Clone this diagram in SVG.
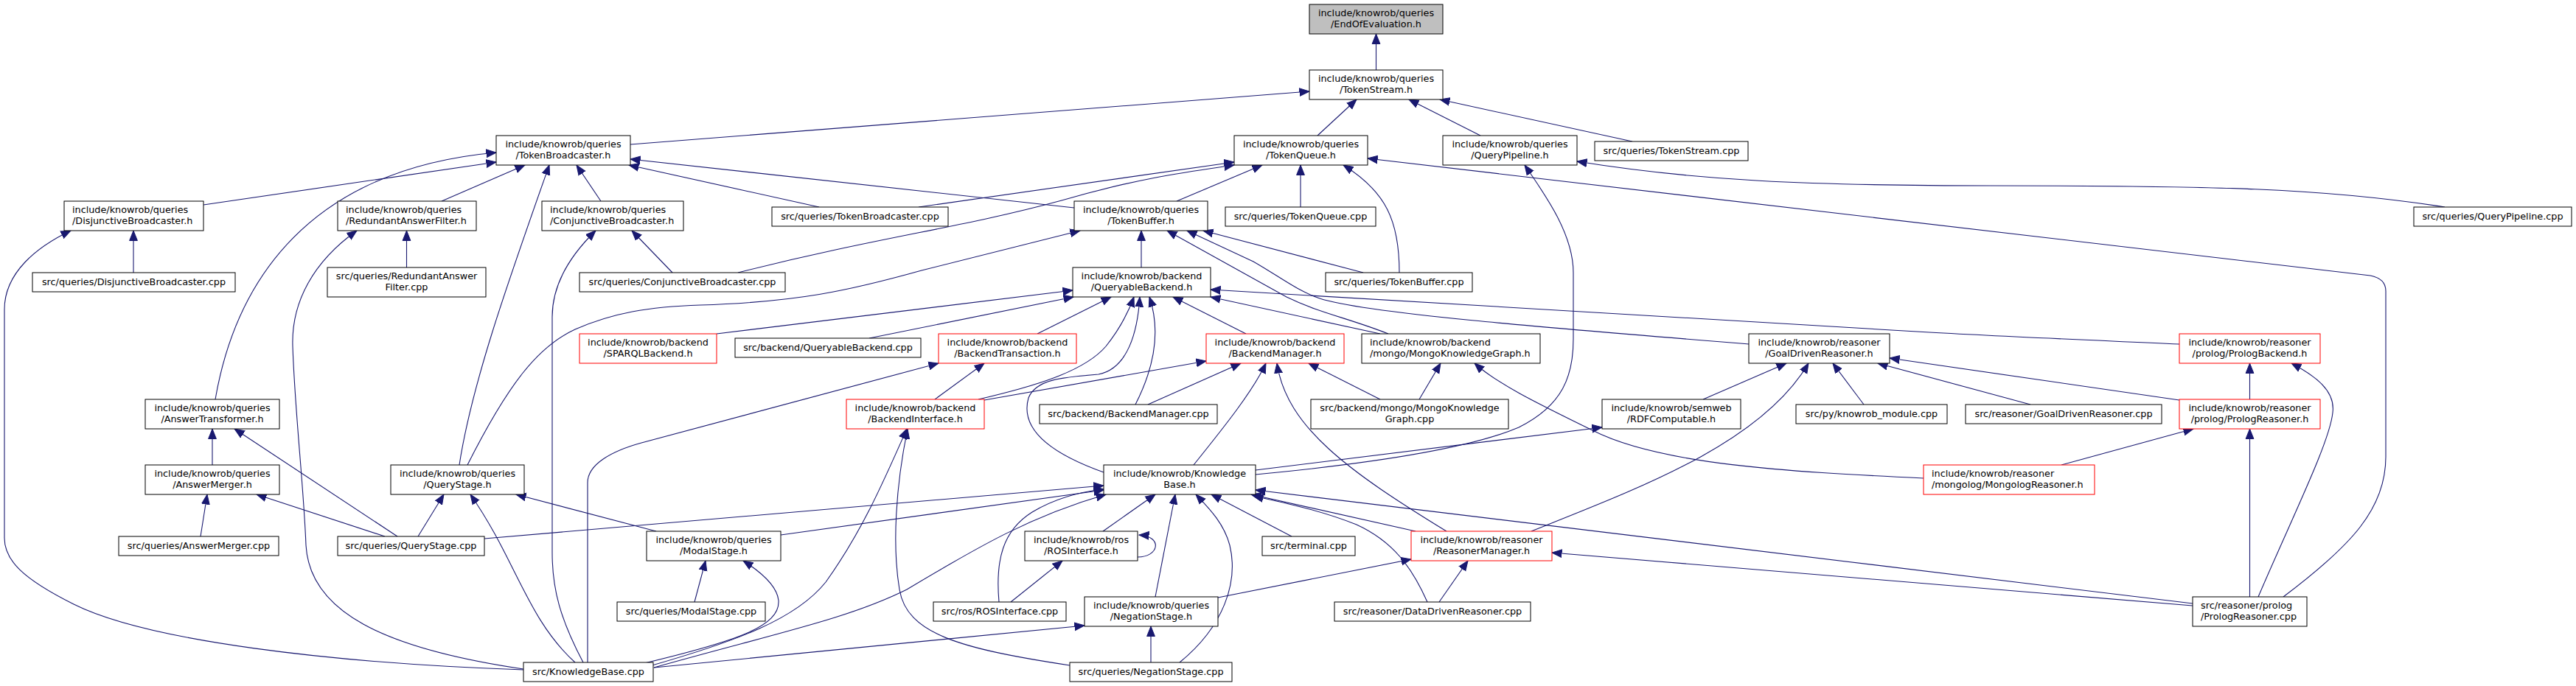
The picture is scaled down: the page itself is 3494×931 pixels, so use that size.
<svg xmlns="http://www.w3.org/2000/svg" width="3494" height="931" viewBox="0 0 3494 931">
<style>
.n rect{fill:#fff;stroke:#000;stroke-width:1}
.n.r rect{stroke:#f00}
.n.root rect{fill:#bfbfbf}
.n text{font-family:"DejaVu Sans",sans-serif;font-size:12.8px;fill:#000;text-anchor:middle}
.n.l text{text-anchor:start}
.e path{fill:none;stroke:#191970;stroke-width:1.1;marker-end:url(#ah)}
</style>
<defs>
<marker id="ah" markerUnits="userSpaceOnUse" markerWidth="15" markerHeight="13" refX="13.5" refY="6" orient="auto" viewBox="0 0 15 12">
<path d="M0,0.6 L13.5,6 L0,11.4 z" fill="#191970" stroke="#191970" stroke-width="1"/>
</marker>
</defs>
<rect x="0" y="0" width="3494" height="931" fill="#fff"/>
<g id="edges" class="e">
<path d="M1866.5,95 L1866.5,46"/>
<path d="M855,196 L1776,124"/>
<path d="M1787,184 L1840,135"/>
<path d="M2008,184 L1911,135"/>
<path d="M2214,192 L1953,135"/>
<path d="M276,278 L673,220"/>
<path d="M292,542 C320,380 420,230 673,207"/>
<path d="M599,273 L712,224"/>
<path d="M623,631 C640,520 690,380 745,224"/>
<path d="M815,273 L782,224"/>
<path d="M1457,282 L855,216"/>
<path d="M1111,281 L853,224"/>
<path d="M1246,281 L1674,220"/>
<path d="M1001,370 C1200,320 1300,310 1440,272 C1550,240 1620,232 1674,224"/>
<path d="M1596,273 L1712,224"/>
<path d="M1764,281 L1764,224"/>
<path d="M1898,370 C1898,300 1880,260 1822,224"/>
<path d="M3097,810 C3190,740 3236,690 3236,620 L3236,395 Q3236,378 3215,374 L1855,215"/>
<path d="M1703,644 C1850,630 1990,610 2060,580 C2120,550 2134,510 2134,460 L2134,370 C2134,320 2100,270 2068,224"/>
<path d="M3316,281 C3150,255 3000,252 2700,252 C2450,252 2300,245 2139,219"/>
<path d="M710,909 C450,900 200,870 100,820 C30,785 6,760 6,730 L6,420 C6,370 50,335 96,313"/>
<path d="M710,908 C520,880 420,830 415,740 C412,660 400,560 397,470 C395,410 425,355 484,313"/>
<path d="M791,899 C760,840 749,800 749,750 L749,430 C749,390 770,350 808,313"/>
<path d="M780,899 C715,840 700,760 638,671"/>
<path d="M797,899 L797,655 C797,630 830,612 870,601 L1273,493"/>
<path d="M890,721 L700,671"/>
<path d="M1059,726 L1497,665"/>
<path d="M657,731 L1497,659"/>
<path d="M870,901 C1000,870 1058,850 1056,815 C1054,795 1030,775 1008,761"/>
<path d="M881,904 C1000,870 1080,840 1120,790 C1170,720 1200,650 1230,582"/>
<path d="M887,906 C1050,860 1150,840 1230,800 C1330,740 1400,700 1500,671"/>
<path d="M887,906 L1471,849"/>
<path d="M1451,903 C1300,880 1230,860 1220,800 C1210,740 1215,660 1231,582"/>
<path d="M1561,899 L1561,850"/>
<path d="M1600,899 C1660,850 1680,790 1668,740 C1660,710 1640,690 1622,671"/>
<path d="M1567,810 L1594,671"/>
<path d="M1496,721 L1567,671"/>
<path d="M1371,817 L1441,761"/>
<path d="M1355,817 C1350,760 1360,720 1400,695 C1430,677 1460,668 1497,664"/>
<path d="M1543,756 C1572,756 1578,728 1545,726"/>
<path d="M1752,728 L1643,671"/>
<path d="M1920,721 L1697,671"/>
<path d="M1936,817 C1915,770 1890,735 1840,712 C1790,692 1740,682 1700,673"/>
<path d="M2974,819 L1703,665"/>
<path d="M2974,822 L2105,750"/>
<path d="M1652,811 L1914,759"/>
<path d="M1952,817 L1991,761"/>
<path d="M1703,638 L2173,580"/>
<path d="M2310,542 L2423,493"/>
<path d="M2077,721 C2230,660 2390,600 2453,493"/>
<path d="M2528,549 L2486,493"/>
<path d="M2956,543 L2563,486"/>
<path d="M2754,549 L2547,493"/>
<path d="M2372,467 C2100,445 1850,425 1790,405 C1760,395 1735,375 1700,355 L1610,313"/>
<path d="M1849,370 L1632,313"/>
<path d="M1883,453 C1830,432 1790,425 1745,403 L1583,313"/>
<path d="M1872,453 L1642,403"/>
<path d="M2956,467 C2800,460 2700,456 2600,450 L1642,393"/>
<path d="M972,453 L1455,394"/>
<path d="M1179,459 L1456,403"/>
<path d="M1407,453 L1507,403"/>
<path d="M1327,542 C1400,525 1470,505 1500,470 C1520,445 1530,425 1538,403"/>
<path d="M1497,641 C1410,610 1385,575 1395,540 C1405,515 1440,512 1490,508 C1530,500 1543,450 1546,403"/>
<path d="M1540,549 C1565,500 1575,450 1559,403"/>
<path d="M1690,453 L1591,403"/>
<path d="M1548,363 L1548,313"/>
<path d="M1268,542 L1335,493"/>
<path d="M1335,543 L1636,490"/>
<path d="M1557,549 L1683,493"/>
<path d="M1619,631 C1660,580 1700,530 1717,493"/>
<path d="M1962,721 C1830,640 1745,580 1732,493"/>
<path d="M1872,542 L1775,493"/>
<path d="M1925,542 L1954,493"/>
<path d="M2609,649 C2420,640 2250,630 2160,584 C2080,545 2030,520 2000,493"/>
<path d="M3051.5,542 L3051.5,493"/>
<path d="M3063,810 C3110,700 3160,600 3164,560 C3168,530 3140,510 3108,493"/>
<path d="M3051.5,810 L3051.5,582"/>
<path d="M2796,631 L2975,582"/>
<path d="M272,728 L281,671"/>
<path d="M288,631 L288,582"/>
<path d="M522,728 L348,671"/>
<path d="M539,728 L318,582"/>
<path d="M567,728 L602,671"/>
<path d="M942,817 L957,761"/>
<path d="M181,370 L181,313"/>
<path d="M551.5,363 L551.5,313"/>
<path d="M912,370 L857,313"/>
<path d="M634,631 C690,520 730,470 780,447 C830,425 880,416 950,414 C1080,410 1150,395 1250,367 L1465,313"/>
</g>
<g id="n_eoe" class="n root"><rect x="1776" y="6" width="181" height="40"/><text x="1866.5" y="22.3">include/knowrob/queries</text><text x="1866.5" y="37">/EndOfEvaluation.h</text></g>
<g id="n_ts" class="n"><rect x="1776" y="95" width="181" height="40"/><text x="1866.5" y="111.3">include/knowrob/queries</text><text x="1866.5" y="126">/TokenStream.h</text></g>
<g id="n_tb" class="n"><rect x="673" y="184" width="182" height="40"/><text x="764" y="200.3">include/knowrob/queries</text><text x="764" y="215">/TokenBroadcaster.h</text></g>
<g id="n_tq" class="n"><rect x="1674" y="184" width="181" height="40"/><text x="1764.5" y="200.3">include/knowrob/queries</text><text x="1764.5" y="215">/TokenQueue.h</text></g>
<g id="n_qp" class="n"><rect x="1957" y="184" width="182" height="40"/><text x="2048" y="200.3">include/knowrob/queries</text><text x="2048" y="215">/QueryPipeline.h</text></g>
<g id="n_tscpp" class="n"><rect x="2163" y="192" width="208" height="26"/><text x="2267" y="209.3">src/queries/TokenStream.cpp</text></g>
<g id="n_db" class="n l"><rect x="87" y="273" width="189" height="40"/><text x="98" y="289.3">include/knowrob/queries</text><text x="98" y="304">/DisjunctiveBroadcaster.h</text></g>
<g id="n_raf" class="n l"><rect x="458" y="273" width="188" height="40"/><text x="469" y="289.3">include/knowrob/queries</text><text x="469" y="304">/RedundantAnswerFilter.h</text></g>
<g id="n_cb" class="n l"><rect x="735" y="273" width="192" height="40"/><text x="746" y="289.3">include/knowrob/queries</text><text x="746" y="304">/ConjunctiveBroadcaster.h</text></g>
<g id="n_tbcpp" class="n"><rect x="1047" y="281" width="239" height="26"/><text x="1166.5" y="298.3">src/queries/TokenBroadcaster.cpp</text></g>
<g id="n_tbuf" class="n"><rect x="1457" y="273" width="181" height="40"/><text x="1547.5" y="289.3">include/knowrob/queries</text><text x="1547.5" y="304">/TokenBuffer.h</text></g>
<g id="n_tqcpp" class="n"><rect x="1662" y="281" width="204" height="26"/><text x="1764" y="298.3">src/queries/TokenQueue.cpp</text></g>
<g id="n_qpcpp" class="n"><rect x="3274" y="281" width="214" height="26"/><text x="3381" y="298.3">src/queries/QueryPipeline.cpp</text></g>
<g id="n_dbcpp" class="n"><rect x="44" y="370" width="275" height="26"/><text x="181.5" y="387.3">src/queries/DisjunctiveBroadcaster.cpp</text></g>
<g id="n_rafcpp" class="n"><rect x="444" y="363" width="215" height="40"/><text x="551.5" y="379.3">src/queries/RedundantAnswer</text><text x="551.5" y="394">Filter.cpp</text></g>
<g id="n_cbcpp" class="n"><rect x="786" y="370" width="279" height="26"/><text x="925.5" y="387.3">src/queries/ConjunctiveBroadcaster.cpp</text></g>
<g id="n_qb" class="n"><rect x="1455" y="363" width="187" height="40"/><text x="1548.5" y="379.3">include/knowrob/backend</text><text x="1548.5" y="394">/QueryableBackend.h</text></g>
<g id="n_tbufcpp" class="n"><rect x="1798" y="370" width="199" height="26"/><text x="1897.5" y="387.3">src/queries/TokenBuffer.cpp</text></g>
<g id="n_sparql" class="n r"><rect x="786" y="453" width="186" height="40"/><text x="879" y="469.3">include/knowrob/backend</text><text x="879" y="484">/SPARQLBackend.h</text></g>
<g id="n_qbcpp" class="n"><rect x="997" y="459" width="252" height="26"/><text x="1123" y="476.3">src/backend/QueryableBackend.cpp</text></g>
<g id="n_btx" class="n r"><rect x="1273" y="453" width="187" height="40"/><text x="1366.5" y="469.3">include/knowrob/backend</text><text x="1366.5" y="484">/BackendTransaction.h</text></g>
<g id="n_bm" class="n r"><rect x="1636" y="453" width="187" height="40"/><text x="1729.5" y="469.3">include/knowrob/backend</text><text x="1729.5" y="484">/BackendManager.h</text></g>
<g id="n_mkg" class="n l"><rect x="1847" y="453" width="242" height="40"/><text x="1858" y="469.3">include/knowrob/backend</text><text x="1858" y="484">/mongo/MongoKnowledgeGraph.h</text></g>
<g id="n_gdr" class="n"><rect x="2372" y="453" width="191" height="40"/><text x="2467.5" y="469.3">include/knowrob/reasoner</text><text x="2467.5" y="484">/GoalDrivenReasoner.h</text></g>
<g id="n_pb" class="n r"><rect x="2956" y="453" width="191" height="40"/><text x="3051.5" y="469.3">include/knowrob/reasoner</text><text x="3051.5" y="484">/prolog/PrologBackend.h</text></g>
<g id="n_at" class="n"><rect x="197" y="542" width="182" height="40"/><text x="288" y="558.3">include/knowrob/queries</text><text x="288" y="573">/AnswerTransformer.h</text></g>
<g id="n_bi" class="n r"><rect x="1148" y="542" width="187" height="40"/><text x="1241.5" y="558.3">include/knowrob/backend</text><text x="1241.5" y="573">/BackendInterface.h</text></g>
<g id="n_bmcpp" class="n"><rect x="1410" y="549" width="241" height="26"/><text x="1530.5" y="566.3">src/backend/BackendManager.cpp</text></g>
<g id="n_mkgcpp" class="n"><rect x="1778" y="542" width="268" height="40"/><text x="1912" y="558.3">src/backend/mongo/MongoKnowledge</text><text x="1912" y="573">Graph.cpp</text></g>
<g id="n_rdf" class="n"><rect x="2173" y="542" width="188" height="40"/><text x="2267" y="558.3">include/knowrob/semweb</text><text x="2267" y="573">/RDFComputable.h</text></g>
<g id="n_py" class="n"><rect x="2436" y="549" width="205" height="26"/><text x="2538.5" y="566.3">src/py/knowrob_module.cpp</text></g>
<g id="n_gdrcpp" class="n"><rect x="2666" y="549" width="266" height="26"/><text x="2799" y="566.3">src/reasoner/GoalDrivenReasoner.cpp</text></g>
<g id="n_pr" class="n r"><rect x="2956" y="542" width="191" height="40"/><text x="3051.5" y="558.3">include/knowrob/reasoner</text><text x="3051.5" y="573">/prolog/PrologReasoner.h</text></g>
<g id="n_am" class="n"><rect x="197" y="631" width="182" height="40"/><text x="288" y="647.3">include/knowrob/queries</text><text x="288" y="662">/AnswerMerger.h</text></g>
<g id="n_qs" class="n"><rect x="530" y="631" width="181" height="40"/><text x="620.5" y="647.3">include/knowrob/queries</text><text x="620.5" y="662">/QueryStage.h</text></g>
<g id="n_kb" class="n"><rect x="1497" y="631" width="206" height="40"/><text x="1600" y="647.3">include/knowrob/Knowledge</text><text x="1600" y="662">Base.h</text></g>
<g id="n_mr" class="n r l"><rect x="2609" y="631" width="232" height="40"/><text x="2620" y="647.3">include/knowrob/reasoner</text><text x="2620" y="662">/mongolog/MongologReasoner.h</text></g>
<g id="n_amcpp" class="n"><rect x="161" y="728" width="217" height="26"/><text x="269.5" y="745.3">src/queries/AnswerMerger.cpp</text></g>
<g id="n_qscpp" class="n"><rect x="458" y="728" width="199" height="26"/><text x="557.5" y="745.3">src/queries/QueryStage.cpp</text></g>
<g id="n_ms" class="n"><rect x="877" y="721" width="182" height="40"/><text x="968" y="737.3">include/knowrob/queries</text><text x="968" y="752">/ModalStage.h</text></g>
<g id="n_ros" class="n"><rect x="1390" y="721" width="153" height="40"/><text x="1466.5" y="737.3">include/knowrob/ros</text><text x="1466.5" y="752">/ROSInterface.h</text></g>
<g id="n_term" class="n"><rect x="1712" y="728" width="126" height="26"/><text x="1775" y="745.3">src/terminal.cpp</text></g>
<g id="n_rm" class="n r"><rect x="1914" y="721" width="191" height="40"/><text x="2009.5" y="737.3">include/knowrob/reasoner</text><text x="2009.5" y="752">/ReasonerManager.h</text></g>
<g id="n_mscpp" class="n"><rect x="837" y="817" width="201" height="26"/><text x="937.5" y="834.3">src/queries/ModalStage.cpp</text></g>
<g id="n_roscpp" class="n"><rect x="1266" y="817" width="180" height="26"/><text x="1356" y="834.3">src/ros/ROSInterface.cpp</text></g>
<g id="n_ns" class="n"><rect x="1471" y="810" width="181" height="40"/><text x="1561.5" y="826.3">include/knowrob/queries</text><text x="1561.5" y="841">/NegationStage.h</text></g>
<g id="n_ddr" class="n"><rect x="1810" y="817" width="266" height="26"/><text x="1943" y="834.3">src/reasoner/DataDrivenReasoner.cpp</text></g>
<g id="n_prcpp" class="n l"><rect x="2974" y="810" width="155" height="40"/><text x="2985" y="826.3">src/reasoner/prolog</text><text x="2985" y="841">/PrologReasoner.cpp</text></g>
<g id="n_kbcpp" class="n"><rect x="710" y="899" width="176" height="26"/><text x="798" y="916.3">src/KnowledgeBase.cpp</text></g>
<g id="n_nscpp" class="n"><rect x="1451" y="899" width="220" height="26"/><text x="1561" y="916.3">src/queries/NegationStage.cpp</text></g>
</svg>
